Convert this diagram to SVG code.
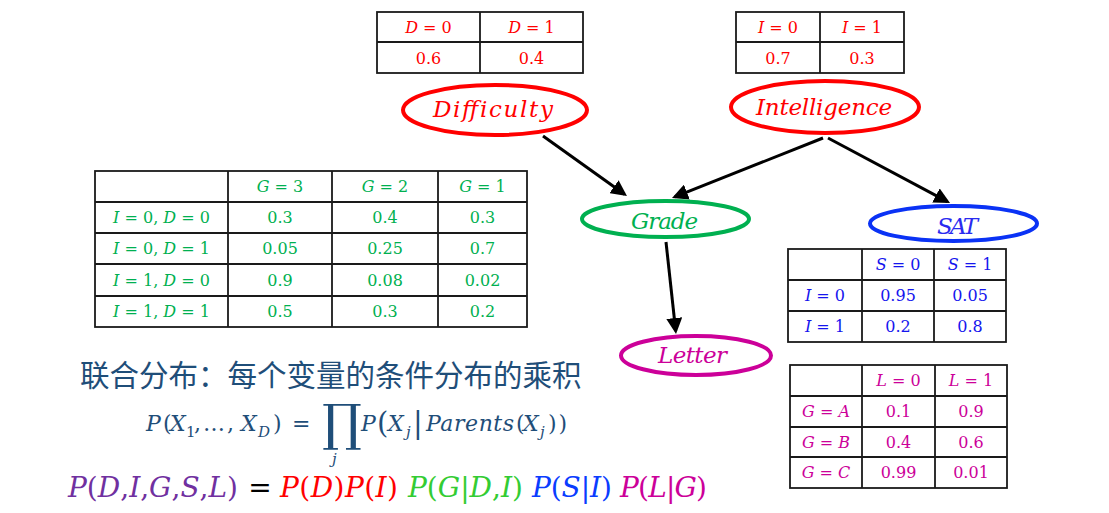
<svg xmlns="http://www.w3.org/2000/svg" width="1109" height="513" viewBox="0 0 1109 513">
<style>
.tb{fill:none;stroke:#1a1a1a;stroke-width:1.8}
.t{font-family:"DejaVu Serif","Liberation Serif",serif;font-size:16px;text-anchor:middle}
.i{font-style:italic}
.lbl{font-family:"DejaVu Serif","Liberation Serif",serif;font-size:23px;font-style:italic}
.nd{fill:none;stroke-width:4}
.red{fill:#FF0000}.grn{fill:#00B050}.blu{fill:#1515EE}.mag{fill:#CC0099}
.f1{font-family:"DejaVu Serif","Liberation Serif",serif;font-size:22px;fill:#1F4E79}
.sub{font-size:15px}
.par{font-size:29px}
.prod{font-size:50px}
.f2{font-family:"DejaVu Serif","Liberation Serif",serif;font-size:28px}
.cn{font-family:"Noto Sans CJK SC","Noto Sans",sans-serif;font-size:29.5px;fill:#1F4E79}
.edge{stroke:#000;stroke-width:3;fill:none;marker-end:url(#ah)}
</style>
<defs>
<marker id="ah" viewBox="0 0 16 16" markerWidth="16" markerHeight="16" refX="13" refY="8" orient="auto" markerUnits="userSpaceOnUse">
<path d="M0,0 L16,8 L0,16 z" fill="#000"/>
</marker>
</defs>
<rect width="1109" height="513" fill="#fff"/>

<g id="connectors">
<line class="edge" x1="543" y1="136" x2="624.5" y2="194.3"/>
<line class="edge" x1="823" y1="138" x2="674.8" y2="196.9"/>
<line class="edge" x1="828" y1="138" x2="947.4" y2="201.6"/>
<line class="edge" x1="666" y1="242" x2="675.7" y2="331"/>
</g>

<g id="node-difficulty">
<ellipse class="nd" cx="495" cy="110" rx="92" ry="25" stroke="#FF0000"/>
<text class="lbl red" x="433" y="117" textLength="120" lengthAdjust="spacing">Difficulty</text>
</g>
<g id="node-intelligence">
<ellipse class="nd" cx="825" cy="107" rx="94" ry="26" stroke="#FF0000"/>
<text class="lbl red" x="756" y="115" textLength="136" lengthAdjust="spacing">Intelligence</text>
</g>
<g id="node-grade">
<ellipse class="nd" cx="665.5" cy="219" rx="83.5" ry="18" stroke="#00B050"/>
<text class="lbl grn" x="631" y="229" textLength="67" lengthAdjust="spacing">Grade</text>
</g>
<g id="node-sat">
<ellipse class="nd" cx="953.5" cy="223.5" rx="83.5" ry="17.5" stroke="#0A32F5"/>
<text class="lbl" fill="#2A2AF0" x="937" y="234" textLength="41" lengthAdjust="spacing">SAT</text>
</g>
<g id="node-letter">
<ellipse class="nd" cx="696" cy="355.5" rx="75" ry="19.5" stroke="#CC0099"/>
<text class="lbl mag" x="658" y="363" textLength="69" lengthAdjust="spacing">Letter</text>
</g>

<g id="cpt-difficulty">
<rect class="tb" x="377" y="12" width="206" height="61"/>
<path class="tb" d="M377,42H583M480,12V73"/>
<text class="t red" x="428.5" y="33"><tspan class="i">D</tspan> = 0</text>
<text class="t red" x="531.5" y="33"><tspan class="i">D</tspan> = 1</text>
<text class="t red" x="428.5" y="63.5">0.6</text>
<text class="t red" x="531.5" y="63.5">0.4</text>
</g>

<g id="cpt-intelligence">
<rect class="tb" x="736" y="12" width="168" height="61"/>
<path class="tb" d="M736,42H904M820,12V73"/>
<text class="t red" x="778" y="33"><tspan class="i">I</tspan> = 0</text>
<text class="t red" x="862" y="33"><tspan class="i">I</tspan> = 1</text>
<text class="t red" x="778" y="63.5">0.7</text>
<text class="t red" x="862" y="63.5">0.3</text>
</g>

<g id="cpt-grade">
<rect class="tb" x="95" y="171" width="432" height="156"/>
<path class="tb" d="M95,202H527M95,233H527M95,264H527M95,296H527M228,171V327M332,171V327M438,171V327"/>
<text class="t grn" x="280" y="192"><tspan class="i">G</tspan> = 3</text>
<text class="t grn" x="385" y="192"><tspan class="i">G</tspan> = 2</text>
<text class="t grn" x="482.5" y="192"><tspan class="i">G</tspan> = 1</text>
<text class="t grn" x="161.5" y="223"><tspan class="i">I</tspan> = 0, <tspan class="i">D</tspan> = 0</text>
<text class="t grn" x="161.5" y="254"><tspan class="i">I</tspan> = 0, <tspan class="i">D</tspan> = 1</text>
<text class="t grn" x="161.5" y="285.5"><tspan class="i">I</tspan> = 1, <tspan class="i">D</tspan> = 0</text>
<text class="t grn" x="161.5" y="317"><tspan class="i">I</tspan> = 1, <tspan class="i">D</tspan> = 1</text>
<text class="t grn" x="280" y="223">0.3</text>
<text class="t grn" x="385" y="223">0.4</text>
<text class="t grn" x="482.5" y="223">0.3</text>
<text class="t grn" x="280" y="254">0.05</text>
<text class="t grn" x="385" y="254">0.25</text>
<text class="t grn" x="482.5" y="254">0.7</text>
<text class="t grn" x="280" y="285.5">0.9</text>
<text class="t grn" x="385" y="285.5">0.08</text>
<text class="t grn" x="482.5" y="285.5">0.02</text>
<text class="t grn" x="280" y="317">0.5</text>
<text class="t grn" x="385" y="317">0.3</text>
<text class="t grn" x="482.5" y="317">0.2</text>
</g>

<g id="cpt-sat">
<rect class="tb" x="788" y="249" width="218" height="93"/>
<path class="tb" d="M788,280H1006M788,311H1006M862,249V342M934,249V342"/>
<text class="t blu" x="898" y="270"><tspan class="i">S</tspan> = 0</text>
<text class="t blu" x="970" y="270"><tspan class="i">S</tspan> = 1</text>
<text class="t blu" x="825" y="301"><tspan class="i">I</tspan> = 0</text>
<text class="t blu" x="825" y="332"><tspan class="i">I</tspan> = 1</text>
<text class="t blu" x="898" y="301">0.95</text>
<text class="t blu" x="970" y="301">0.05</text>
<text class="t blu" x="898" y="332">0.2</text>
<text class="t blu" x="970" y="332">0.8</text>
</g>

<g id="cpt-letter">
<rect class="tb" x="790" y="365" width="217" height="123"/>
<path class="tb" d="M790,396H1007M790,427H1007M790,457H1007M862,365V488M935,365V488"/>
<text class="t mag" x="898.5" y="386"><tspan class="i">L</tspan> = 0</text>
<text class="t mag" x="971" y="386"><tspan class="i">L</tspan> = 1</text>
<text class="t mag" x="826" y="417"><tspan class="i">G</tspan> = <tspan class="i">A</tspan></text>
<text class="t mag" x="826" y="447.5"><tspan class="i">G</tspan> = <tspan class="i">B</tspan></text>
<text class="t mag" x="826" y="478"><tspan class="i">G</tspan> = <tspan class="i">C</tspan></text>
<text class="t mag" x="898.5" y="417">0.1</text>
<text class="t mag" x="971" y="417">0.9</text>
<text class="t mag" x="898.5" y="447.5">0.4</text>
<text class="t mag" x="971" y="447.5">0.6</text>
<text class="t mag" x="898.5" y="478">0.99</text>
<text class="t mag" x="971" y="478">0.01</text>
</g>

<g id="caption">
<text class="cn" x="80" y="386">联合分布：每个变量的条件分布的乘积</text>
</g>

<g id="formula-general">
<text class="f1 i" x="146" y="431">P</text>
<text class="f1" x="163" y="431">(</text>
<text class="f1 i" x="170" y="431">X</text>
<text class="f1 sub" x="186" y="437">1</text>
<text class="f1" x="194" y="431">,</text>
<text class="f1" x="203" y="431">…</text>
<text class="f1" x="227" y="431">,</text>
<text class="f1 i" x="241" y="431">X</text>
<text class="f1 i sub" x="258" y="437">D</text>
<text class="f1" x="273" y="431">)</text>
<text class="f1" x="292" y="431">=</text>
<text class="f1 prod" x="322" y="440">∏</text>
<text class="f1 i sub" x="332" y="464">j</text>
<text class="f1 i" x="361" y="431">P</text>
<text class="f1 par" x="377" y="433">(</text>
<text class="f1 i" x="388" y="431">X</text>
<text class="f1 i sub" x="406" y="437">j</text>
<text class="f1 par" x="413" y="433">|</text>
<text class="f1 i" x="426" y="431" textLength="88" lengthAdjust="spacing">Parents</text>
<text class="f1" x="516" y="431">(</text>
<text class="f1 i" x="523" y="431">X</text>
<text class="f1 i sub" x="540" y="437">j</text>
<text class="f1" x="548" y="431" letter-spacing="2">))</text>
</g>

<g id="formula-joint">
<text class="f2" x="68" y="497" fill="#7030A0" textLength="170" lengthAdjust="spacing"><tspan class="i">P</tspan>(<tspan class="i">D</tspan>,<tspan class="i">I</tspan>,<tspan class="i">G</tspan>,<tspan class="i">S</tspan>,<tspan class="i">L</tspan>)</text>
<text class="f2" x="260" y="497" fill="#000" text-anchor="middle">=</text>
<text class="f2" x="280" y="497" fill="#FF0000" textLength="118" lengthAdjust="spacing"><tspan class="i">P</tspan>(<tspan class="i">D</tspan>)<tspan class="i">P</tspan>(<tspan class="i">I</tspan>)</text>
<text class="f2" x="408" y="497" fill="#33CC33" textLength="115" lengthAdjust="spacing"><tspan class="i">P</tspan>(<tspan class="i">G</tspan>|<tspan class="i">D</tspan>,<tspan class="i">I</tspan>)</text>
<text class="f2" x="532" y="497" fill="#0A3CFF" textLength="80" lengthAdjust="spacing"><tspan class="i">P</tspan>(<tspan class="i">S</tspan>|<tspan class="i">I</tspan>)</text>
<text class="f2" x="620" y="497" fill="#CC0099" textLength="87" lengthAdjust="spacing"><tspan class="i">P</tspan>(<tspan class="i">L</tspan>|<tspan class="i">G</tspan>)</text>
</g>
</svg>
